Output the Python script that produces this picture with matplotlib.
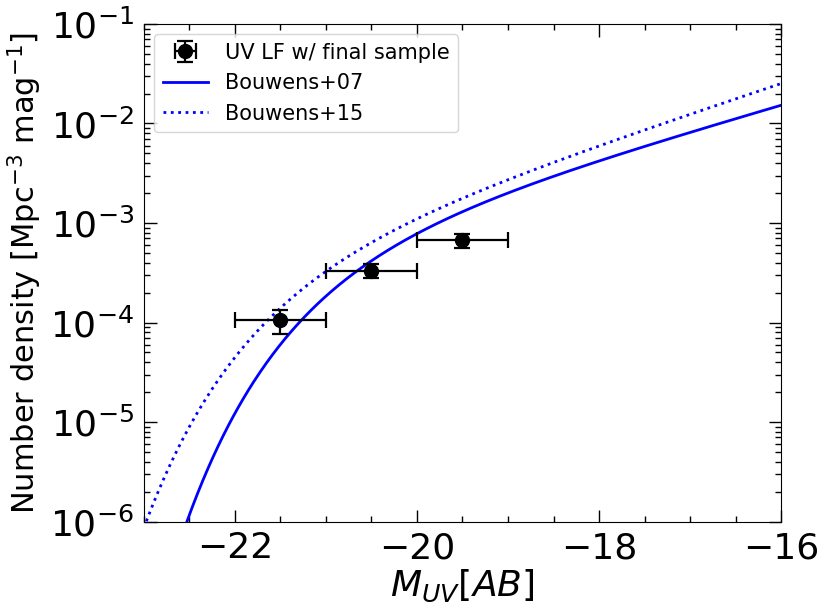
import numpy as np
import matplotlib.pyplot as plt

# UV LF data points (final sample)
mag_bins = [-21.5, -20.5, -19.5]
mag_halfwidth = [0.5, 0.5, 0.5]
phi_obs = [1.05e-4, 3.33e-4, 6.7e-4]
phi_err = [0.28e-4, 0.53e-4, 1.1e-4]

# Schechter parameters (M*, phi*, alpha)
bouwens07 = [-20.64, 1.0e-3, -1.66]
bouwens15 = [-21.17, 0.74e-3, -1.76]


def schechter(M, mstar, phistar, alpha):
    x = 10 ** (0.4 * (mstar - M))
    return 0.4 * np.log(10) * phistar * x ** (alpha + 1) * np.exp(-x)


M = np.linspace(-23, -16, 500)

fig = plt.figure(figsize=(8.31, 6.15), dpi=100)
ax = fig.add_axes([0.173, 0.152, 0.767, 0.809])

eb = ax.errorbar(mag_bins, phi_obs, xerr=mag_halfwidth, yerr=phi_err, fmt='o',
                 color='k', ms=10, capsize=6, elinewidth=1.6, capthick=1.6,
                 label='UV LF w/ final sample', zorder=5)
l1, = ax.plot(M, schechter(M, *bouwens07), '-', color='b', lw=2, label='Bouwens+07')
l2, = ax.plot(M, schechter(M, *bouwens15), ':', color='b', lw=2, label='Bouwens+15')

ax.set_yscale('log')
ax.set_xlim(-23, -16)
ax.set_ylim(1e-6, 1e-1)
ax.set_xticks([-22, -20, -18, -16])
ax.set_xticks(np.arange(-23, -15.9, 0.5), minor=True)

ax.tick_params(which='both', direction='in', top=True, right=True)
ax.tick_params(which='major', length=9, width=1, labelsize=26, pad=7)
ax.tick_params(which='minor', length=4.5, width=1)

ax.set_xlabel(r'$M_{UV}[AB]$', fontsize=26, labelpad=2)
ax.set_ylabel(r'Number density [Mpc$^{-3}$ mag$^{-1}$]', fontsize=22, labelpad=4)

ax.legend([eb, l1, l2], ['UV LF w/ final sample', 'Bouwens+07', 'Bouwens+15'],
          loc='upper left', fontsize=15, handlelength=2.2)

fig.savefig('out.png', dpi=100)
